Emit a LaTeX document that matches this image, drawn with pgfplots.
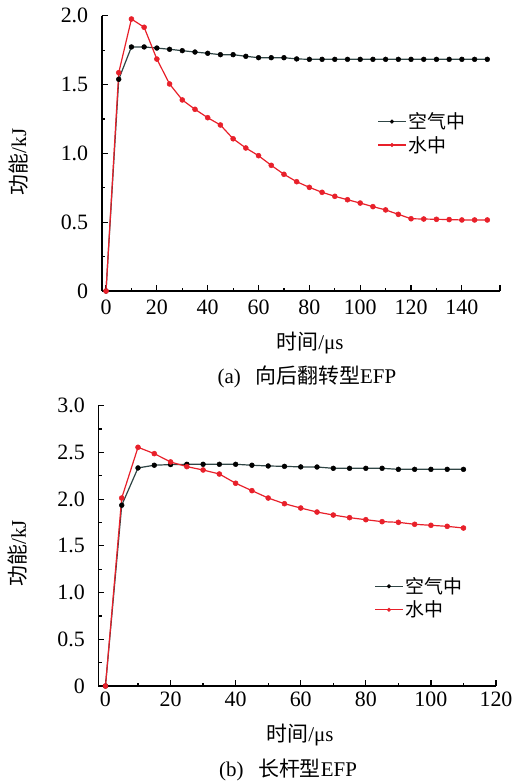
\documentclass[border=0pt]{standalone}
\usepackage{pgfplots}
\pgfplotsset{compat=1.18}
\usepackage{fontspec}
\setmainfont{Liberation Serif}
\newfontfamily\cjk{Noto Sans CJK SC}
\definecolor{airc}{HTML}{2F4545}
\definecolor{waterc}{HTML}{E8202A}

\pgfplotsset{
  myaxis/.style={
    scale only axis,
    axis x line=bottom, axis y line=left,
    x axis line style={-, line width=1.6bp, black},
    y axis line style={-, line width=1.6bp, black},
    tick align=inside,
    major tick length=6bp, minor tick length=3.5bp,
    every tick/.style={black, line width=1.2bp},
    tick label style={font=\fontsize{22}{26}\selectfont},
    label style={font=\fontsize{21}{25}\selectfont},
    /pgf/number format/assume math mode=true,
    minor x tick num=1, minor y tick num=1,
    yticklabel style={xshift=-10bp},
    legend cell align=left,
    legend image code/.code={\draw[##1, mark repeat=2, mark phase=2, mark size=1.8bp] plot coordinates {(0bp,0bp) (13.8bp,0bp) (27.6bp,0bp)};},
  },
  air/.style={draw=airc, line width=1.2bp, mark=*, mark size=2.4bp, mark options={fill=black, draw=black, line width=0.5bp}},
  water/.style={draw=waterc, line width=1.2bp, mark=*, mark size=2.5bp, mark options={fill=waterc, draw=waterc, line width=0.5bp}},
}

\begin{document}
\begin{tikzpicture}[x=1bp,y=1bp]
\useasboundingbox (0,0) rectangle (521,-783);

% (a)
\begin{axis}[myaxis,
  at={(101.7bp,-291bp)}, anchor=south west,
  width=398.3bp, height=275.3bp,
  xmin=-1.7, xmax=155, ymin=0, ymax=2,
  xtick={0,20,40,60,80,100,120,140},
  extra x ticks={155}, extra x tick labels={},
  ytick={0,0.5,1,1.5,2}, yticklabels={0,0.5,1.0,1.5,2.0},
  xticklabel style={yshift=-5bp},
  xlabel={{\cjk 时间}/μs},
  xlabel style={at={(axis description cs:0.523,-0.189)}, anchor=center},
  ylabel={{\cjk 功能}/kJ},
  ylabel style={at={(axis description cs:-0.21,0.469)}, anchor=center},
  legend style={draw=none, fill=none, at={(axis description cs:0.692,0.573)}, anchor=west,
    font=\fontsize{19}{23}\selectfont, row sep=2bp, inner sep=0pt},
]
\addplot[air] coordinates {(0,0)(5,1.538)(10,1.773)(15,1.773)(20,1.765)(25,1.756)(30,1.746)(35,1.736)(40,1.727)(45,1.717)(50,1.717)(55,1.705)(60,1.695)(65,1.695)(70,1.695)(75,1.686)(80,1.683)(85,1.683)(90,1.683)(95,1.683)(100,1.683)(105,1.683)(110,1.683)(115,1.683)(120,1.683)(125,1.683)(130,1.683)(135,1.683)(140,1.683)(145,1.683)(150,1.683)};
\addlegendentry{\cjk 空气中}
\addplot[water] coordinates {(0,0)(5,1.586)(10,1.976)(15,1.916)(20,1.685)(25,1.504)(30,1.388)(35,1.320)(40,1.259)(45,1.206)(50,1.106)(55,1.039)(60,0.983)(65,0.913)(70,0.848)(75,0.794)(80,0.753)(85,0.717)(90,0.688)(95,0.663)(100,0.639)(105,0.613)(110,0.589)(115,0.557)(120,0.525)(125,0.523)(130,0.521)(135,0.519)(140,0.516)(145,0.516)(150,0.516)};
\addlegendentry{\cjk 水中}
\end{axis}
\node[font=\fontsize{21}{25}\selectfont] at (307,-377) {(a)\hspace{0.7em}{\cjk 向后翻转型}EFP};

% (b)
\begin{axis}[myaxis,
  at={(98.3bp,-686bp)}, anchor=south west,
  width=397.7bp, height=280.3bp,
  xmin=-2.2, xmax=120, ymin=0, ymax=3,
  xtick={0,20,40,60,80,100,120},
  ytick={0,0.5,1,1.5,2,2.5,3}, yticklabels={0,0.5,1.0,1.5,2.0,2.5,3.0},
  xticklabel style={yshift=-2bp},
  xlabel={{\cjk 时间}/μs},
  xlabel style={at={(axis description cs:0.507,-0.175)}, anchor=center},
  ylabel={{\cjk 功能}/kJ},
  ylabel style={at={(axis description cs:-0.202,0.474)}, anchor=center},
  legend style={draw=none, fill=none, at={(axis description cs:0.694,0.314)}, anchor=west,
    font=\fontsize{19}{23}\selectfont, row sep=2bp, inner sep=0pt},
]
\addplot[air] coordinates {(0,0)(5,1.935)(10,2.334)(15,2.363)(20,2.370)(25,2.373)(30,2.373)(35,2.373)(40,2.373)(45,2.363)(50,2.355)(55,2.351)(60,2.345)(65,2.344)(70,2.330)(75,2.330)(80,2.330)(85,2.330)(90,2.319)(95,2.319)(100,2.319)(105,2.319)(110,2.319)};
\addlegendentry{\cjk 空气中}
\addplot[water] coordinates {(0,0)(5,2.012)(10,2.555)(15,2.487)(20,2.398)(25,2.348)(30,2.312)(35,2.269)(40,2.170)(45,2.091)(50,2.012)(55,1.951)(60,1.905)(65,1.862)(70,1.830)(75,1.802)(80,1.780)(85,1.759)(90,1.752)(95,1.731)(100,1.720)(105,1.709)(110,1.691)};
\addlegendentry{\cjk 水中}
\end{axis}
\node[font=\fontsize{21}{25}\selectfont] at (288,-770) {(b)\hspace{0.7em}{\cjk 长杆型}EFP};
\end{tikzpicture}
\end{document}
